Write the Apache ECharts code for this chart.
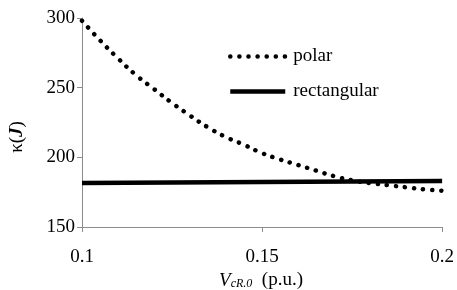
<!DOCTYPE html>
<html><head><meta charset="utf-8">
<script src="https://cdn.jsdelivr.net/npm/echarts@6/dist/echarts.min.js"></script>
<style>html,body{margin:0;padding:0;background:#fff}#c{width:457px;height:290px}</style>
</head><body><div id="c"></div>
<script>
const xPolar = [0.100,0.105,0.110,0.115,0.120,0.125,0.130,0.135,0.140,0.145,0.150,0.155,0.160,0.165,0.170,0.175,0.180,0.185,0.190,0.195,0.200];
const polarValues = [298,284,271,259,249,239,230,221.5,214.5,209,203,198.5,194.5,190.5,186.5,183.5,181.5,180,178.5,177,176];
const xRect = [0.1, 0.2];
const rectValues = [181.5, 183];
const xTicks = [0.1, 0.15, 0.2];
const yTicks = [150, 200, 250, 300];
const seriesNames = ['polar', 'rectangular'];

const serif = 'Liberation Serif';
const chart = echarts.init(document.getElementById('c'), null, {renderer:'canvas'});
const axisCol = '#8c8c8c';
const dotted = {color: '#000', width: 4.5, type: [0.1, 9], cap: 'round'};
const solid = {color: '#000', width: 4.5, type: 'solid', cap: 'butt'};
const legTxt = {fontFamily: serif, fontSize: 19, color: '#000', padding: [0,0,0,3]};
chart.setOption({
  animation: false,
  backgroundColor: '#fff',
  grid: {left: 82, right: 14, top: 18, bottom: 63},
  xAxis: {
    type: 'value', min: xTicks[0], max: xTicks[xTicks.length-1], interval: 0.05,
    axisLine: {lineStyle: {color: axisCol, width: 1}},
    axisTick: {show: true, length: 5, lineStyle: {color: axisCol}},
    splitLine: {show: false},
    axisLabel: {fontFamily: serif, fontSize: 19, color: '#000', margin: 21,
      formatter: v => String(+v.toFixed(2))}
  },
  yAxis: {
    type: 'value', min: yTicks[0], max: yTicks[yTicks.length-1], interval: 50,
    axisLine: {show: true, lineStyle: {color: axisCol, width: 1}},
    axisTick: {show: true, length: 5, lineStyle: {color: axisCol}},
    splitLine: {show: false},
    axisLabel: {fontFamily: serif, fontSize: 19, color: '#000', margin: 7}
  },
  legend: [
    {data: [seriesNames[0]], left: 228, top: 47, padding: 0, itemWidth: 55, itemHeight: 14, itemGap: 5,
     itemStyle: {opacity: 0}, lineStyle: dotted, textStyle: legTxt},
    {data: [seriesNames[1]], left: 228, top: 82, padding: 0, itemWidth: 55, itemHeight: 14, itemGap: 5,
     itemStyle: {opacity: 0}, lineStyle: solid, textStyle: legTxt}
  ],
  series: [
    {name: seriesNames[0], type: 'line', smooth: true, symbol: 'none',
     data: xPolar.map((x,i)=>[x, polarValues[i]]), lineStyle: dotted},
    {name: seriesNames[1], type: 'line', symbol: 'none',
     data: xRect.map((x,i)=>[x, rectValues[i]]), lineStyle: solid}
  ],
  graphic: [
    {type: 'text', x: 17, y: 137, rotation: Math.PI/2,
     style: {text: '{k|κ}{p|(}{j|J}{p|)}', align: 'center', verticalAlign: 'middle',
       rich: {
         k: {fontFamily: serif, fontSize: 19, fill: '#000'},
         p: {fontFamily: serif, fontSize: 19, fill: '#000'},
         j: {fontFamily: serif, fontSize: 19, fontWeight: 'bold', fontStyle: 'italic', fill: '#000'}
       }}},
    {type: 'text', x: 261, y: 280,
     style: {text: '{v|V}{s|cR.0}{n|  (p.u.)}', align: 'center', verticalAlign: 'middle',
       rich: {
         v: {fontFamily: serif, fontSize: 19, fontStyle: 'italic', fill: '#000', verticalAlign: 'bottom', lineHeight: 20},
         s: {fontFamily: serif, fontSize: 12, fontStyle: 'italic', fill: '#000', verticalAlign: 'bottom', lineHeight: 12},
         n: {fontFamily: serif, fontSize: 19, fill: '#000', verticalAlign: 'bottom', lineHeight: 20}
       }}}
  ]
});
</script></body></html>
